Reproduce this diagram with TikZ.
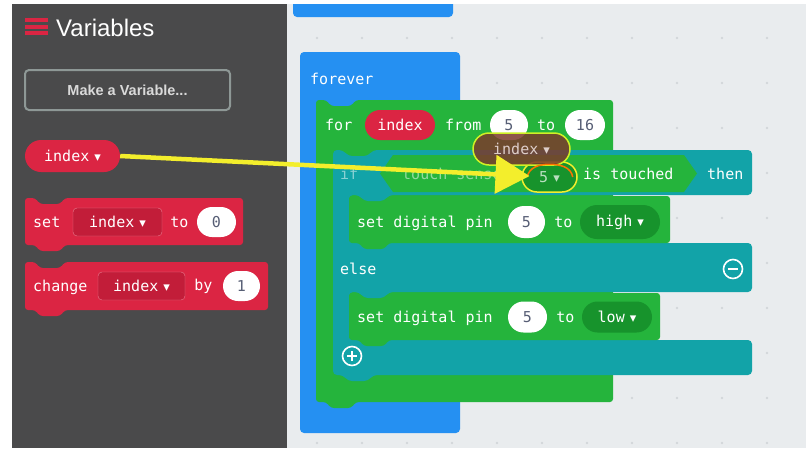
\documentclass[tikz,border=0pt]{standalone}
\usepackage{fontspec}
\setmainfont{Liberation Sans}
\newfontfamily\blockfont{DejaVu Sans Mono}
\newfontfamily\symfont{DejaVu Sans}
\usetikzlibrary{positioning, shapes.misc, arrows.meta}

\definecolor{panelgray}{HTML}{4A4A4B}
\definecolor{wsgray}{HTML}{E9ECEE}
\definecolor{dotgray}{HTML}{D2D6DA}
\definecolor{varred}{HTML}{DB2543}
\definecolor{vardark}{HTML}{C21D39}
\definecolor{loopblue}{HTML}{2590F2}
\definecolor{pingreen}{HTML}{25B43C}
\definecolor{pindark}{HTML}{17932C}
\definecolor{logicteal}{HTML}{12A3A8}
\definecolor{dragbrown}{HTML}{7B3A2C}
\definecolor{hiyellow}{HTML}{F3EE2C}
\definecolor{ovaltext}{HTML}{575E75}
\definecolor{btnedge}{HTML}{8E9896}

% small dropdown triangle
\newcommand\dd{\hspace{5pt}{\symfont\fontsize{13}{13}\selectfont ▾}}

% stack block with top notch and bottom tab: colour, x1, y1, x2, y2
\newcommand\stackblk[5]{%
  \fill[#1, rounded corners=3pt] (#2,#3) -- (#2+10,#3) -- (#2+15,#3+6) -- (#2+35,#3+6) -- (#2+40,#3)
    -- (#4,#3) -- (#4,#5) -- (#2+40,#5) -- (#2+35,#5+6) -- (#2+15,#5+6) -- (#2+10,#5) -- (#2,#5) -- cycle;}

\tikzset{
  blk/.style={font=\blockfont\fontsize{15}{18}\selectfont},
  lbl/.style={blk, text=white, anchor=west, inner sep=0pt},
  txt/.style={lbl, anchor=base west, yshift=-5pt},
  faded/.style={txt, text opacity=0.5},
  pill/.style={blk, rounded rectangle, inner sep=0pt, minimum height=30pt},
  oval/.style={pill, fill=white, text=ovaltext},
  varpill/.style={pill, fill=varred, text=white},
  dropg/.style={pill, fill=pindark, text=white},
  dropr/.style={blk, fill=vardark, draw=varred!60!white, rounded corners=4pt, text=white,
    inner sep=0pt, minimum height=28pt},
  ring/.style={circle, draw=white, line width=1.6pt, minimum size=19pt, inner sep=0pt},
  dragarrow/.style={draw=hiyellow, line width=4.5pt, -{Triangle[length=34pt,width=38pt]}},
}

\begin{document}
\begin{tikzpicture}[x=1pt, y=-1pt]
  \useasboundingbox (0,0) rectangle (809,448);
  \fill[white] (0,0) rectangle (809,448);

  % toolbox
  \fill[panelgray] (12,4) rectangle (287,448);
  \foreach \y in {18,24.5,31}
    \fill[varred] (25,\y) rectangle (48,\y+4);
  \node[anchor=west, inner sep=0pt, text=white, font=\fontsize{24}{27}\selectfont] (title) at (56,28) {Variables};
  \node[draw=btnedge, line width=2pt, rounded corners=4pt, minimum width=205pt, minimum height=40pt,
    text=white!85!black, font=\bfseries\fontsize{14.5}{16}\selectfont] (mkvar) at (127.5,90) {Make a Variable...};

  \node[varpill, minimum width=95pt, minimum height=32pt] (idx) at (72.5,156) {index\dd};

  \stackblk{varred}{25}{198}{243}{245}
  \node[txt] (setw) at (33,222) {set};
  \node[dropr, minimum width=89pt] (setvar) at (117.5,222) {index\dd};
  \node[lbl, right=8pt of setvar] (setto) {to};
  \node[oval, minimum width=39pt] (zero) at (216.5,222) {0};

  \stackblk{varred}{25}{262}{268}{310}
  \node[txt] (chw) at (33,286) {change};
  \node[dropr, minimum width=87pt] (chvar) at (141.5,286) {index\dd};
  \node[lbl, right=9pt of chvar] (chby) {by};
  \node[oval, minimum width=37pt] (one) at (241.5,286) {1};

  % workspace
  \fill[wsgray] (287,4) rectangle (806,448);
  \foreach \i in {0,...,10}
    \foreach \j in {0,...,9}
      \fill[dotgray] (317+45*\i,38+45*\j) circle (1.3pt);

  \begin{scope}
    \clip (287,4) rectangle (806,448);
    \fill[loopblue, rounded corners=4pt] (293,-6) rectangle (453,17);
  \end{scope}

  % forever
  \fill[loopblue, rounded corners=4pt] (300,52) rectangle (460,433);
  \node[txt] (forever) at (310,79) {forever};

  % for loop
  \stackblk{pingreen}{316}{100}{613}{402}
  \node[txt] (forw) at (325,125) {for};
  \node[varpill, minimum width=70pt] (loopvar) at (400,125) {index};
  \node[txt] (from) at (445,125) {from};
  \node[oval, minimum width=38pt] (lo) at (509,125) {5};
  \node[txt] (forto) at (537,125) {to};
  \node[oval, minimum width=40pt] (hi) at (585,125) {16};

  % if / else
  \fill[logicteal, rounded corners=4pt] (333,150) -- (343,150) -- (348,156) -- (368,156) -- (373,150)
    -- (752,150) -- (752,195) -- (389,195) -- (384,201) -- (364,201) -- (359,195) -- (349,195)
    -- (349,243) -- (752,243) -- (752,292) -- (389,292) -- (384,298) -- (364,298) -- (359,292) -- (349,292)
    -- (349,340) -- (752,340) -- (752,375) -- (373,375) -- (368,381) -- (348,381) -- (343,375)
    -- (333,375) -- cycle;
  \node[faded] (ifw) at (340,174) {if};
  \fill[pingreen] (380,173.5) -- (393,155) -- (684,155) -- (697,173.5) -- (684,192) -- (393,192) -- cycle;
  \node[faded] (sensor) at (402,174) {touch sensor};
  \node[dropg, draw=hiyellow, line width=1.5pt, minimum width=55pt, text opacity=0.7] (drop5) at (549.5,177) {5\dd};
  \node[txt] (touched) at (583,174) {is touched};
  \node[txt] (then) at (707,174) {then};

  \stackblk{pingreen}{349}{196}{670}{243}
  \node[txt] (setpin) at (357,222) {set digital pin};
  \node[oval, minimum width=37pt, minimum height=32pt] (pina) at (526.5,222) {5};
  \node[lbl, right=9pt of pina] (toa) {to};
  \node[dropg, minimum width=80pt, minimum height=34pt] (high) at (620,222) {high\dd};

  \node[txt] (else) at (340,269) {else};
  \node[ring] (minus) at (733,269) {};
  \draw[white, line width=2.4pt] ([xshift=-5pt]minus.center) -- ([xshift=5pt]minus.center);

  \stackblk{pingreen}{349}{293}{660}{340}
  \node[txt] (clrpin) at (357,317) {set digital pin};
  \node[oval, minimum width=39pt, minimum height=31pt] (pinb) at (527.5,317) {5};
  \node[lbl, right=9pt of pinb] (tob) {to};
  \node[dropg, minimum width=70pt, minimum height=31pt] (low) at (617,317) {low\dd};

  \node[ring] (plus) at (352,356) {};
  \draw[white, line width=2.4pt] ([xshift=-5pt]plus.center) -- ([xshift=5pt]plus.center)
    ([yshift=-5pt]plus.center) -- ([yshift=5pt]plus.center);

  % block being dragged
  \node[pill, fill=dragbrown, fill opacity=0.85, text opacity=1, draw=hiyellow!85!green, draw opacity=1,
    line width=1.5pt, text=white!75!dragbrown, minimum width=97pt, minimum height=32pt] (ghost) at (521.5,149) {index\dd};
  \draw[orange!90!red, line width=1.5pt] ([xshift=6pt]drop5.west) to[out=80, in=180] ([yshift=-3pt]drop5.north)
    to[out=0, in=100] ([xshift=-5pt]drop5.east);

  \draw[dragarrow, shorten >=20pt] (idx.east) -- (drop5.center);
\end{tikzpicture}
\end{document}
